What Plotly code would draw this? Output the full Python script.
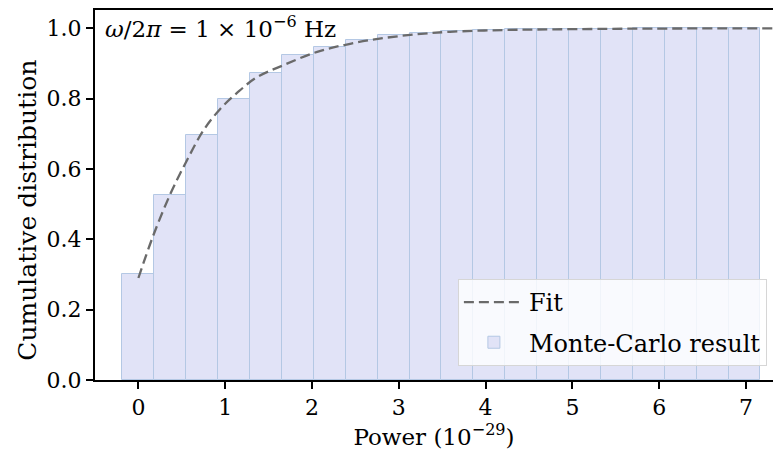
import plotly.graph_objects as go

# Monte-Carlo cumulative distribution (bin centres, bin width, cumulative fraction)
bin_centers = [0.0, 0.3675, 0.735, 1.1025, 1.47, 1.8375, 2.205, 2.5725, 2.94, 3.3075,
               3.675, 4.0425, 4.41, 4.7775, 5.145, 5.5125, 5.88, 6.2475, 6.615, 6.9825]
bin_width = 0.3675
cumulative = [0.301, 0.525, 0.697, 0.800, 0.872, 0.924, 0.948, 0.968, 0.981, 0.988,
              0.992, 0.995, 0.997, 0.998, 0.999, 0.999, 1.0, 1.0, 1.0, 1.0]

# Fitted cumulative curve
fit_x = [0.0, 0.17, 0.37, 0.56, 0.75, 0.94, 1.13, 1.36, 1.67, 2.06, 2.44, 2.82,
         3.21, 3.59, 4.2, 4.8, 5.8, 7.35]
fit_y = [0.29, 0.41, 0.53, 0.625, 0.71, 0.77, 0.815, 0.86, 0.895, 0.933, 0.956,
         0.972, 0.983, 0.990, 0.995, 0.997, 0.999, 1.0]

x_ticks = [0, 1, 2, 3, 4, 5, 6, 7]
y_ticks = [0.0, 0.2, 0.4, 0.6, 0.8, 1.0]

FONT = "DejaVu Serif"

fig = go.Figure()
fig.add_trace(go.Scatter(
    x=fit_x, y=fit_y, mode="lines", name="Fit", legendgroup="fit",
    line=dict(color="#6a6a6a", width=2.3, dash="10px,5px", shape="spline"),
))
fig.add_trace(go.Bar(
    x=bin_centers, y=cumulative, width=bin_width, name="Monte-Carlo result",
    legendgroup="mc",
    marker=dict(color="rgb(225,227,247)", line=dict(color="#b4c8e4", width=1)),
))

# frequency label in the upper-left corner
fig.add_annotation(
    x=0.012, y=1.0, xref="paper", yref="paper", xanchor="left", yanchor="top",
    text="<i>ω</i>/2<i>π</i> = 1 × 10<sup>−6</sup> Hz", showarrow=False,
    font=dict(family=FONT, size=23, color="black"),
)

# y-axis title
fig.add_annotation(
    x=-0.099, y=0.46, xref="paper", yref="paper", xanchor="center", yanchor="middle",
    text="Cumulative distribution", textangle=-90, showarrow=False,
    font=dict(family=FONT, size=25, color="black"),
)

fig.update_layout(
    width=773, height=457,
    margin=dict(l=95, r=0, t=10, b=77),
    plot_bgcolor="white", paper_bgcolor="white",
    font=dict(family=FONT, size=22, color="black"),
    bargap=0,
    showlegend=True,
    legend=dict(
        x=0.991, y=0.038, xanchor="right", yanchor="bottom",
        bgcolor="rgba(255,255,255,0.8)", bordercolor="#d6d6d6", borderwidth=1,
        font=dict(family=FONT, size=24), traceorder="grouped", tracegroupgap=6,
        itemwidth=60,
    ),
    xaxis=dict(
        range=[-0.5, 7.311], tickvals=x_ticks, ticktext=[str(v) for v in x_ticks],
        showline=True, linecolor="black", linewidth=2, mirror=True,
        ticks="outside", ticklen=7, tickwidth=2, tickcolor="black",
        showgrid=False, zeroline=False,
        title=dict(text="Power (10<sup>−29</sup>)", font=dict(family=FONT, size=23), standoff=6),
    ),
    yaxis=dict(
        range=[0, 1.052], tickvals=y_ticks, ticktext=[f"{v:.1f}" for v in y_ticks],
        showline=True, linecolor="black", linewidth=2, mirror=False,
        ticks="outside", ticklen=7, tickwidth=2, tickcolor="black",
        showgrid=False, zeroline=False,
    ),
)

fig.write_html("out.html")
